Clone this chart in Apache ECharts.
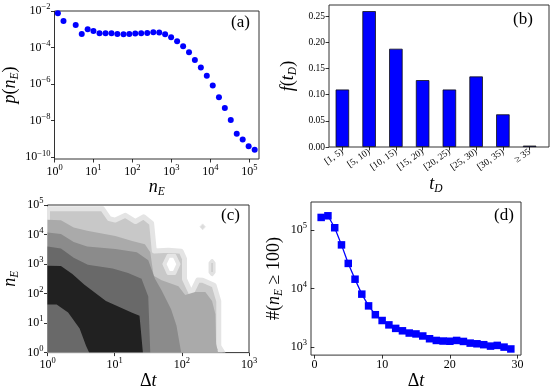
<!DOCTYPE html>
<html><head><meta charset="utf-8">
<script src="https://cdn.jsdelivr.net/npm/echarts@6/dist/echarts.min.js"></script>
<style>html,body{margin:0;padding:0;background:#fff}#c{width:550px;height:391px}</style>
</head><body><div id="c"></div>
<script>
// ---------- panel (a): p(n_E) ----------
const aNE = [1.22,1.7,3.5,5.0,7.1,10,14.3,20.4,29,41,59,83,118,168,240,343,487,690,983,1400,2000,2830,4000,5700,8100,11500,16600,23500,33400,47500,67500,96000,137000];
const aP  = [7.5e-3,2.85e-3,1.72e-3,5.6e-4,1.0e-3,8.1e-4,6.05e-4,6.05e-4,6.05e-4,5.56e-4,5.34e-4,5.56e-4,5.8e-4,6.05e-4,6.3e-4,6.85e-4,6.6e-4,5.4e-4,3.66e-4,2.2e-4,1.18e-4,5.6e-5,2.1e-5,8.1e-6,2.85e-6,8.5e-7,1.95e-7,4.9e-8,1.1e-8,1.95e-9,9.5e-10,4e-10,2.6e-10];
const aXTicks = [1,10,100,1000,10000,100000];
const aYTicks = [1e-10,1e-8,1e-6,1e-4,1e-2];

// ---------- panel (b): f(t_D) ----------
const bCats = ['[1, 5)','[5, 10)','[10, 15)','[15, 20)','[20, 25)','[25, 30)','[30, 35)','\u2265 35'];
const bVals = [0.110,0.260,0.188,0.128,0.110,0.135,0.0625,0.0026];
const bYTicks = [0,0.05,0.10,0.15,0.20,0.25];

// ---------- panel (c): contour levels, vertices in [log10 Δt, log10 n_E] ----------
const cXTicks = [0,1,2,3];
const cYTicks = [0,1,2,3,4,5];
const cOuter = [[0,0],[0,4.87],[0.82,4.87],[0.92,4.54],[1.01,4.49],[1.16,4.65],[1.31,4.44],[1.43,4.6],[1.55,4.38],[1.59,3.44],[1.80,3.47],[1.99,3.43],[2.04,3.18],[2.04,2.49],[2.14,2.0],[2.24,2.46],[2.31,2.45],[2.48,2.28],[2.55,1.74],[2.55,0.22],[2.61,0]];
const cL3 = [[0,0],[0,4.5],[0.2,4.48],[0.39,4.24],[0.59,4.13],[1.01,3.95],[1.26,3.78],[1.45,3.67],[1.53,3.4],[1.58,2.6],[1.7,2.45],[1.95,2.25],[2.05,1.95],[2.2,2.05],[2.35,2.05],[2.45,1.75],[2.5,1.3],[2.51,0.3],[2.54,0]];
const cL4 = [[0,0],[0,4.07],[0.2,4.02],[0.39,3.75],[0.59,3.59],[1.01,3.51],[1.33,3.40],[1.5,3.13],[1.6,2.5],[1.7,2.1],[1.84,1.47],[1.92,0.92],[1.99,0]];
const cL5 = [[0,0],[0,3.59],[0.2,3.53],[0.39,3.21],[0.6,2.98],[0.97,2.85],[1.2,2.7],[1.4,2.5],[1.5,1.9],[1.53,0]];
const cL6 = [[0,1.63],[0,2.94],[0.2,2.93],[0.37,2.66],[0.55,2.3],[0.87,1.75],[1.26,1.35],[1.37,1.25],[1.42,0],[0.62,0],[0.575,0.22],[0.478,0.82],[0.307,1.36],[0.136,1.63]];
const cDiamond = [[2.27,4.26],[2.31,4.36],[2.35,4.26],[2.31,4.16]];
const cPill = [[2.42,2.72],[2.42,3.04],[2.45,3.12],[2.48,3.04],[2.48,2.72],[2.45,2.64]];
const cHole = [[1.74,3.0],[1.80,3.28],[1.89,3.28],[1.95,3.0],[1.89,2.7],[1.80,2.7]];

// ---------- panel (d): #(n_E >= 100) vs Δt ----------
const dDt = [1,2,3,4,5,6,7,8,9,10,11,12,13,14,15,16,17,18,19,20,21,22,23,24,25,26,27,28,29];
const dN  = [165000,176000,110000,56000,27000,14500,8050,5070,3580,2850,2400,2090,1900,1740,1680,1550,1390,1300,1270,1260,1300,1250,1170,1140,1100,1040,1070,1000,930];
const dXTicks = [0,10,20,30];
const dYTicks = [1e3,1e4,1e5];

const FONT = 'Liberation Serif';
const chart = echarts.init(document.getElementById('c'), null, {renderer:'canvas'});
const MINUS = '\u2212';
const supFmt = v => { const e = Math.round(Math.log10(v)); return '10{sup|' + String(e).replace('-', MINUS) + '}'; };
const expFmt = v => '10{sup|' + Math.round(v) + '}';
const tickRich = {sup:{fontSize:8.5, fontFamily:FONT, color:'#000', padding:[0,0,8,0]}};
const nameRich = {
  it:{fontSize:18, fontStyle:'italic', fontFamily:FONT, color:'#000'},
  n:{fontSize:18, fontFamily:FONT, color:'#000'},
  sub:{fontSize:11.5, fontStyle:'italic', fontFamily:FONT, color:'#000', padding:[9,0,0,0]}
};
const frame = {show:true, borderColor:'#333', borderWidth:1, backgroundColor:'transparent'};
const tickStyle = vals => ({show:true, length:3.5, inside:false, customValues:vals, lineStyle:{color:'#000', width:0.8}});
function axisCommon(extra){
  return Object.assign({
    axisLine:{show:false},
    splitLine:{show:false},
    nameTextStyle:{rich:nameRich, fontFamily:FONT},
  }, extra);
}
function labelStyle(ticks, fmt, size){
  return {show:true, customValues:ticks, formatter:fmt, fontFamily:FONT, fontSize:size||12, color:'#000', margin:4, rich:tickRich};
}
function polySeries(pts, fill, stroke, lw){
  return {
    type:'custom', xAxisIndex:2, yAxisIndex:2, clip:true, silent:true,
    data:[[0,0]],
    renderItem:(params, api)=>({
      type:'polygon',
      shape:{points:pts.map(p=>api.coord(p))},
      style:{fill:fill, stroke:stroke||null, lineWidth:lw||0, lineJoin:'round'}
    })
  };
}

const option = {
  animation:false,
  backgroundColor:'#fff',
  grid:[
    Object.assign({left:53, top:11, width:206, height:148}, frame),
    {left:329, top:5, width:214, height:142, show:false},
    Object.assign({left:44, top:205, width:205, height:153}, frame),
    Object.assign({left:311, top:202, width:210, height:156}, frame),
    Object.assign({left:329, top:5, width:220, height:142}, frame)
  ],
  xAxis:[
    axisCommon({gridIndex:0, type:'log', min:1, max:1.77e5, axisTick:tickStyle(aXTicks), axisLabel:labelStyle(aXTicks, supFmt),
      name:'{it|n}{sub|E}', nameLocation:'middle', nameGap:15}),
    axisCommon({gridIndex:1, type:'category', data:bCats, boundaryGap:true,
      axisTick:{show:true, length:3.5, alignWithLabel:true, lineStyle:{color:'#000', width:0.8}},
      axisLabel:{show:true, interval:0, rotate:35, fontFamily:FONT, fontSize:9.5, color:'#000', margin:4},
      name:'{it|t}{sub|D}', nameLocation:'middle', nameGap:27}),
    axisCommon({gridIndex:2, type:'value', min:0, max:3, axisTick:tickStyle(cXTicks), axisLabel:labelStyle(cXTicks, expFmt),
      name:'{n|\u0394}{it|t}', nameLocation:'middle', nameGap:13}),
    axisCommon({gridIndex:3, type:'value', min:-0.5, max:30.5, axisTick:tickStyle(dXTicks), axisLabel:labelStyle(dXTicks, v=>String(v)),
      name:'{n|\u0394}{it|t}', nameLocation:'middle', nameGap:13}),
    {gridIndex:4, type:'value', min:0, max:1, show:false}
  ],
  yAxis:[
    axisCommon({gridIndex:0, type:'log', min:8.1e-11, max:1e-2, axisTick:tickStyle(aYTicks), axisLabel:labelStyle(aYTicks, supFmt),
      name:'{it|p}{n|(}{it|n}{sub|E}{n|)}', nameLocation:'middle', nameGap:34}),
    axisCommon({gridIndex:1, type:'value', min:0, max:0.2717, axisTick:tickStyle(bYTicks),
      axisLabel:{show:true, customValues:bYTicks, formatter:v=>v.toFixed(2), fontFamily:FONT, fontSize:9.5, color:'#000', margin:4},
      name:'{it|f}{n|(}{it|t}{sub|D}{n|)}', nameLocation:'middle', nameGap:30}),
    axisCommon({gridIndex:2, type:'value', min:0, max:5, axisTick:tickStyle(cYTicks), axisLabel:labelStyle(cYTicks, expFmt),
      name:'{it|n}{sub|E}', nameLocation:'middle', nameGap:27}),
    axisCommon({gridIndex:3, type:'log', min:7.3e2, max:3.03e5, axisTick:tickStyle(dYTicks), axisLabel:labelStyle(dYTicks, supFmt),
      name:'{n|#(}{it|n}{sub|E}{n| \u2265 100)}', nameLocation:'middle', nameGap:26}),
    {gridIndex:4, type:'value', min:0, max:1, show:false}
  ],
  graphic:[
    {type:'text', left:231, top:14, style:{text:'(a)', font:'17px "Liberation Serif"', fill:'#000'}},
    {type:'text', left:513, top:11, style:{text:'(b)', font:'17px "Liberation Serif"', fill:'#000'}},
    {type:'text', left:221, top:207, style:{text:'(c)', font:'17px "Liberation Serif"', fill:'#000'}},
    {type:'text', left:494, top:207, style:{text:'(d)', font:'17px "Liberation Serif"', fill:'#000'}}
  ],
  series:[
    {type:'scatter', xAxisIndex:0, yAxisIndex:0, symbol:'circle', symbolSize:6,
     itemStyle:{color:'#0000ff', opacity:1}, data:aNE.map((x,i)=>[x,aP[i]])},
    {type:'bar', xAxisIndex:1, yAxisIndex:1, barWidth:13.5,
     itemStyle:{color:'#0000ff', borderColor:'#111', borderWidth:0.8},
     data:bVals},
    polySeries(cOuter, '#c8c8c8', '#e4e4e4', 5),
    polySeries(cDiamond, '#dcdcdc', '#e8e8e8', 1),
    polySeries(cPill, '#c0c0c0', '#e2e2e2', 3),
    polySeries(cHole, '#ffffff', '#e4e4e4', 4),
    polySeries(cL3, '#aaaaaa'),
    polySeries(cL4, '#8b8b8b'),
    polySeries(cL5, '#696969'),
    polySeries(cL6, '#212121'),
    {type:'line', xAxisIndex:3, yAxisIndex:3, symbol:'rect', symbolSize:7.5,
     lineStyle:{color:'#0000ff', width:1.3}, itemStyle:{color:'#0000ff', opacity:1},
     data:dDt.map((x,i)=>[x,dN[i]])}
  ]
};
chart.setOption(option);
</script></body></html>
